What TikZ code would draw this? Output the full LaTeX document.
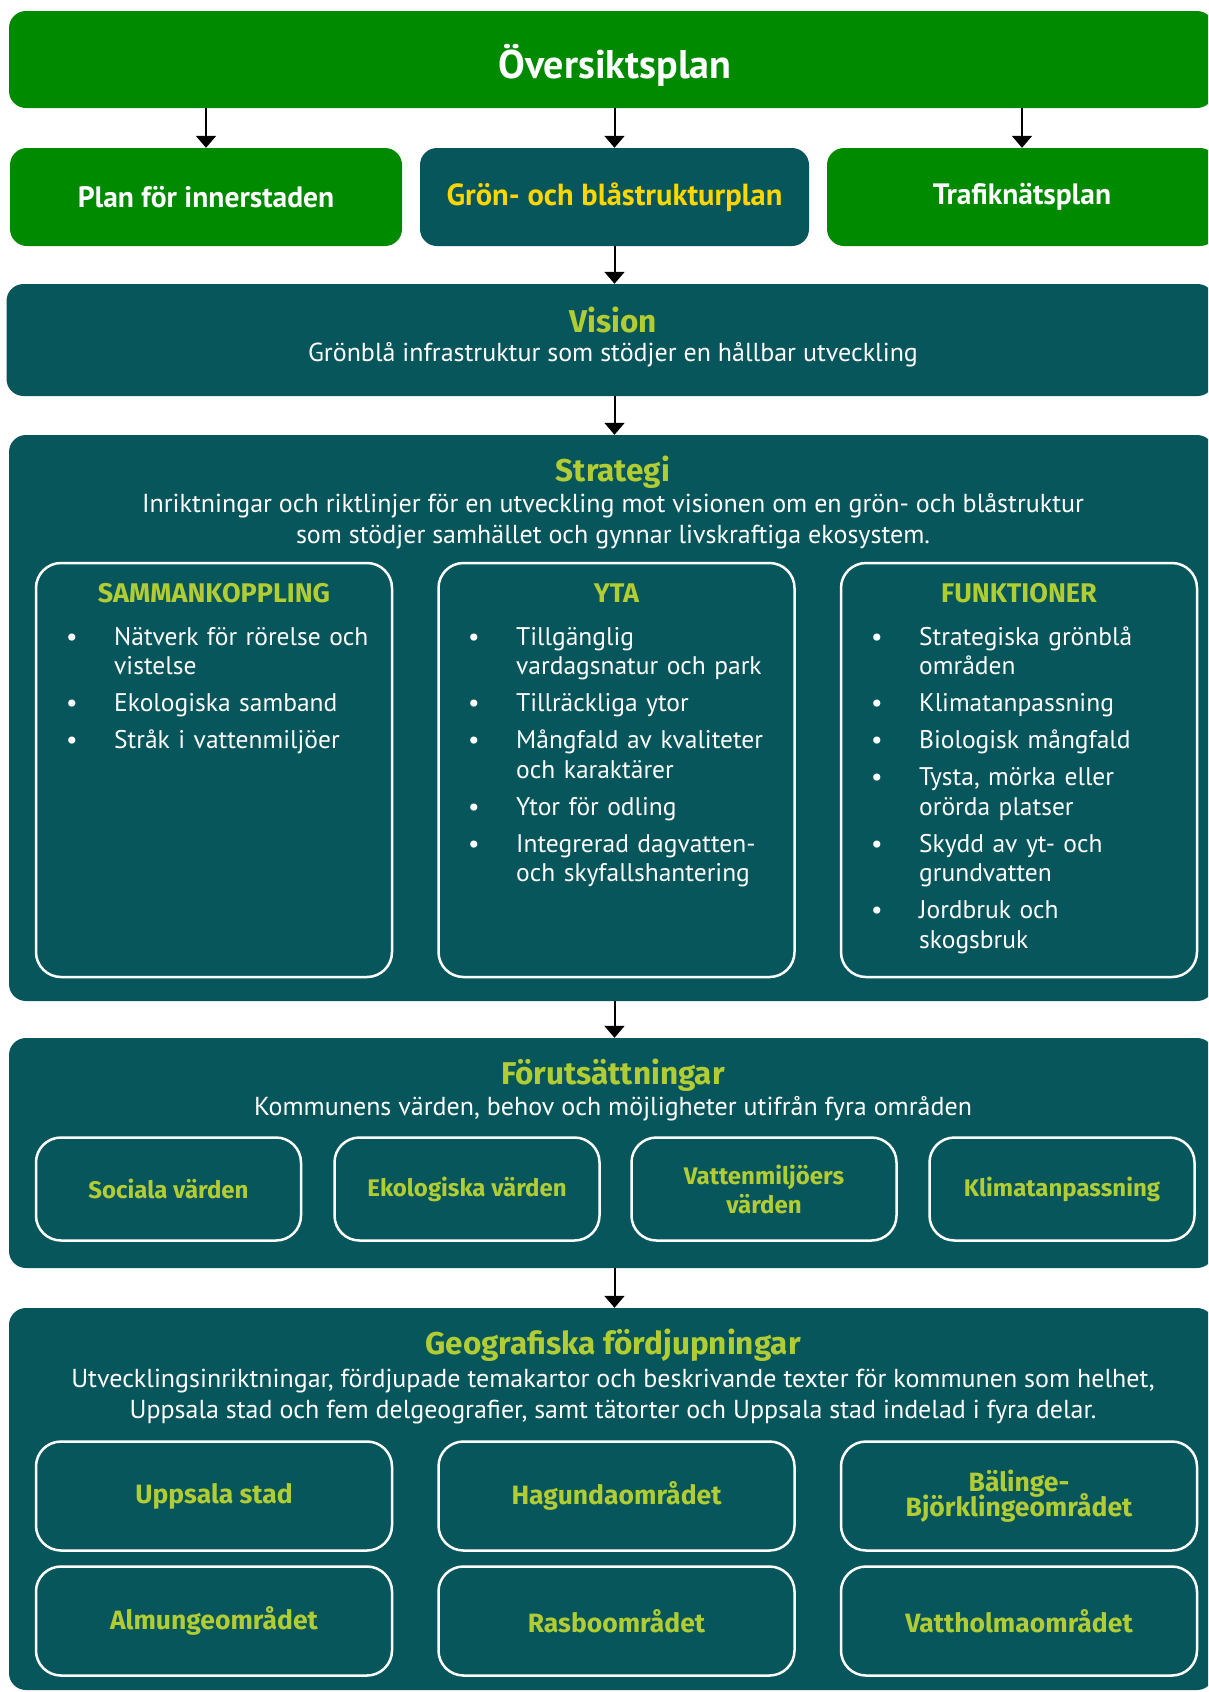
\documentclass[tikz,border=0pt]{standalone}
\usepackage{fontspec}
\setmainfont{PT Sans}
\newfontfamily\tjock{Fira Sans}
\usetikzlibrary{arrows.meta,positioning}
\definecolor{gron}{RGB}{0,138,0}
\definecolor{petrol}{RGB}{6,86,92}
\definecolor{lime}{RGB}{178,204,52}
\definecolor{gul}{RGB}{255,214,0}
% 列表项：圆点 + 悬挂缩进
\newcommand{\listinit}{\parskip=7.5pt\relax\raggedright}
\newcommand{\punkt}[1]{\par\hangindent=43pt\hangafter=1\noindent\makebox[43pt][l]{\hspace*{-5pt}\textbullet}#1\par}
\begin{document}
\begin{tikzpicture}[x=1pt, y=-1pt, >={Triangle[length=12pt,width=20pt]},
    ram/.style={rounded corners=17pt, inner sep=0pt, align=center},
    gronram/.style={ram, fill=gron, text=white},
    petrolram/.style={ram, fill=petrol},
    vitram/.style={rounded corners=25pt, draw=white, line width=2.5pt, inner sep=0pt, align=center,
        text=lime, font=\tjock\bfseries\fontsize{24}{29}\selectfont},
    pil/.style={->, line width=2pt},
    rubrik/.style={text=lime, inner sep=0pt, font=\tjock\bfseries\fontsize{31.5}{34}\selectfont},
    brodtext/.style={text=white, inner sep=0pt, align=center, font=\fontsize{26}{31}\selectfont},
    kolrubrik/.style={text=lime, inner sep=0pt, font=\tjock\bfseries\fontsize{27}{30}\selectfont},
    lista/.style={text=white, inner sep=0pt, anchor=north west, text width=320pt,
        font=\fontsize{25.5}{29.5}\selectfont}]
    % 画布范围：1208 x 1692
    \useasboundingbox (0,0) rectangle (1208,1692);
    \clip (0,0) rectangle (1208,1692);
    % 第一层
    \node[gronram, minimum width=1205pt, minimum height=97pt] (osp) at (611.5,59.5) {};
    \node[text=white, inner sep=0pt, font=\bfseries\fontsize{40}{44}\selectfont]
        (osptxt) at (615,65) {Översiktsplan};
    % 第二层
    \node[gronram, minimum width=392pt, minimum height=98pt, font=\bfseries\fontsize{29.5}{32}\selectfont]
        (plan) at (206,197) {Plan för innerstaden};
    \node[petrolram, minimum width=389pt, minimum height=98pt, text=gul, font=\bfseries\fontsize{30.5}{32}\selectfont]
        (gbp) at (614.5,197) {Grön- och blåstrukturplan};
    \node[gronram, minimum width=390pt, minimum height=98pt, font=\bfseries\fontsize{29.5}{32}\selectfont]
        (trafik) at (1022,197) {Trafiknätsplan};
    \foreach \n in {plan,gbp,trafik} \draw[pil] (osp.south -| \n.north) -- (\n.north);
    % 愿景
    \node[petrolram, minimum width=1208pt, minimum height=112pt] (vision) at (610.5,340) {};
    \node[rubrik] (visionrub) at (613,320) {Vision};
    \node[brodtext] (visiontxt) at (613,355) {Grönblå infrastruktur som stödjer en hållbar utveckling};
    \draw[pil] (gbp.south) -- (gbp.south |- vision.north);
    % 策略
    \node[petrolram, minimum width=1205pt, minimum height=566pt] (strategi) at (611.5,718) {};
    \node[rubrik] (strategirub) at (613,472) {Strategi};
    \node[brodtext] (strategitxt) at (613,521) {Inriktningar och riktlinjer för en utveckling mot visionen om en grön- och blåstruktur\\
        som stödjer samhället och gynnar livskraftiga ekosystem.};
    \draw[pil] (gbp.south |- vision.south) -- (gbp.south |- strategi.north);
    \foreach \n/\x/\r in {samman/214/SAMMANKOPPLING, yta/616.5/YTA, funk/1019/FUNKTIONER} {
        \node[vitram, minimum width=356pt, minimum height=414pt] (\n) at (\x,770) {};
        \node[kolrubrik] (\n rub) at (\x,593) {\r};
    }
    \node[lista] (sammanlista) at (71,608) {\listinit
        \punkt{Nätverk för rörelse och\newline vistelse}
        \punkt{Ekologiska samband}
        \punkt{Stråk i vattenmiljöer}};
    \node[lista] (ytalista) at (473,608) {\listinit
        \punkt{Tillgänglig\newline vardagsnatur och park}
        \punkt{Tillräckliga ytor}
        \punkt{Mångfald av kvaliteter\newline och karaktärer}
        \punkt{Ytor för odling}
        \punkt{Integrerad dagvatten-\newline och skyfallshantering}};
    \node[lista] (funklista) at (876,608) {\listinit
        \punkt{Strategiska grönblå\newline områden}
        \punkt{Klimatanpassning}
        \punkt{Biologisk mångfald}
        \punkt{Tysta, mörka eller\newline orörda platser}
        \punkt{Skydd av yt- och\newline grundvatten}
        \punkt{Jordbruk och\newline skogsbruk}};
    % 前提条件
    \node[petrolram, minimum width=1205pt, minimum height=230pt] (forut) at (611.5,1153) {};
    \node[rubrik] (forutrub) at (613,1075) {Förutsättningar};
    \node[brodtext] (foruttxt) at (613,1109) {Kommunens värden, behov och möjligheter utifrån fyra områden};
    \draw[pil] (gbp.south |- strategi.south) -- (gbp.south |- forut.north);
    \foreach \n/\x/\t in {social/168.5/Sociala värden, eko/467/Ekologiska värden,
        vatten/764/Vattenmiljöers\\värden, klimat/1062/Klimatanpassning}
        \node[vitram, minimum width=265pt, minimum height=103pt] (\n) at (\x,1189) {\t};
    % 地理细化
    \node[petrolram, minimum width=1205pt, minimum height=382pt] (geo) at (611.5,1499) {};
    \node[rubrik] (georub) at (613,1345) {Geografiska fördjupningar};
    \node[brodtext] (geotxt) at (613,1397) {Utvecklingsinriktningar, fördjupade temakartor och beskrivande texter för kommunen som helhet,\\
        Uppsala stad och fem delgeografier, samt tätorter och Uppsala stad indelad i fyra delar.};
    \draw[pil] (gbp.south |- forut.south) -- (gbp.south |- geo.north);
    \foreach \n/\x/\y/\t in {uppsala/214/1496/Uppsala stad, hagunda/616.5/1496/Hagundaområdet,
        balinge/1019/1496/Bälinge-\\[-5pt]Björklingeområdet, almunge/214/1621/Almungeområdet,
        rasbo/616.5/1621/Rasboområdet, vattholma/1019/1621/Vattholmaområdet}
        \node[vitram, minimum width=356pt, minimum height=109pt, font=\tjock\bfseries\fontsize{26.5}{28}\selectfont]
            (\n) at (\x,\y) {\t};
\end{tikzpicture}
\end{document}
